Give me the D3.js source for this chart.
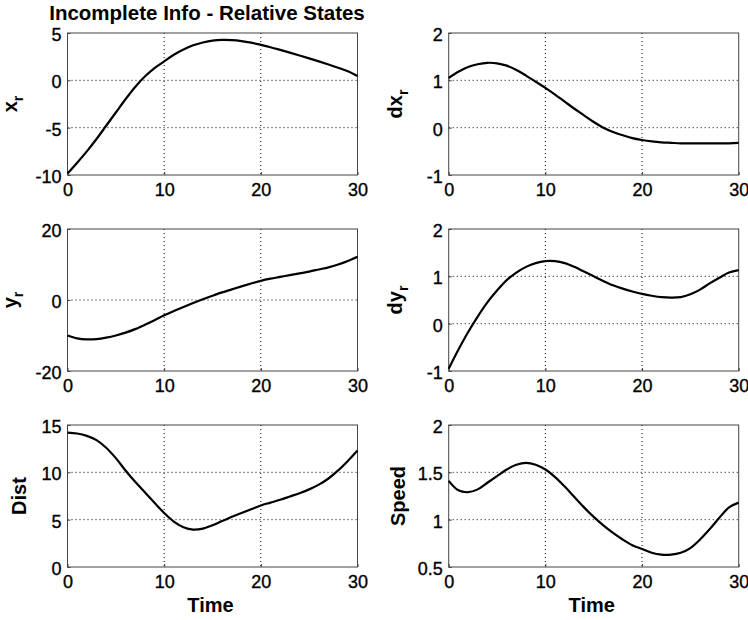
<!DOCTYPE html>
<html>
<head>
<meta charset="utf-8">
<script src="https://cdn.jsdelivr.net/npm/d3@7"></script>
<style>
  body { margin: 0; background: #fff; }
  svg { display: block; font-family: Arial, "Liberation Sans", sans-serif; }
</style>
</head>
<body>
<div id="chart"></div>
<script>
// temps (x commun aux 6 graphes)
const temps = [0, 1, 2, 3, 4, 5, 6, 7, 8, 9, 10, 11, 12, 13, 14, 15, 16, 17, 18, 19, 20,
  21, 22, 23, 24, 25, 26, 27, 28, 29, 30];

const xr = [-9.85, -8.7, -7.5, -6.2, -4.8, -3.4, -2.0, -0.7, 0.4, 1.3, 2.0, 2.7, 3.25, 3.7, 4.0, 4.2,
  4.27, 4.25, 4.15, 3.98, 3.75, 3.5, 3.22, 2.93, 2.63, 2.32, 2.0, 1.67, 1.33, 0.95, 0.45];
const dxr = [1.05, 1.18, 1.28, 1.34, 1.37, 1.36, 1.31, 1.22, 1.1, 0.97, 0.84, 0.7, 0.55, 0.4, 0.26,
  0.12, 0.0, -0.09, -0.16, -0.22, -0.26, -0.29, -0.31, -0.32, -0.33, -0.33, -0.33, -0.33, -0.33, -0.33, -0.32];
const yr = [-10.0, -10.8, -11.1, -11.0, -10.6, -10.0, -9.2, -8.2, -7.0, -5.7, -4.3, -3.1, -1.95, -0.85,
  0.2, 1.2, 2.15, 3.0, 3.85, 4.65, 5.4, 6.0, 6.5, 7.0, 7.5, 8.0, 8.6, 9.2, 10.0, 11.0, 12.2];
const dyr = [-0.95, -0.55, -0.18, 0.15, 0.45, 0.7, 0.92, 1.08, 1.2, 1.28, 1.32, 1.32, 1.28, 1.2, 1.1,
  1.0, 0.9, 0.81, 0.74, 0.68, 0.63, 0.59, 0.56, 0.55, 0.56, 0.62, 0.72, 0.85, 0.97, 1.08, 1.13];
const dist = [14.2, 14.1, 13.85, 13.4, 12.6, 11.5, 10.2, 9.0, 7.9, 6.8, 5.7, 4.8, 4.2, 3.95, 4.05, 4.4,
  4.85, 5.3, 5.7, 6.1, 6.5, 6.8, 7.1, 7.45, 7.8, 8.2, 8.7, 9.35, 10.2, 11.2, 12.3];
const vitesse = [1.41, 1.31, 1.29, 1.32, 1.39, 1.46, 1.53, 1.58, 1.6, 1.58, 1.53, 1.45, 1.35, 1.24,
  1.13, 1.03, 0.94, 0.86, 0.79, 0.73, 0.69, 0.65, 0.63, 0.63, 0.65, 0.7, 0.79, 0.9, 1.02, 1.13, 1.18];

const ticksTemps = [0, 10, 20, 30];
const ticksXr = [-10, -5, 0, 5];
const ticksDxr = [-1, 0, 1, 2];
const ticksYr = [-20, 0, 20];
const ticksDyr = [-1, 0, 1, 2];
const ticksDist = [0, 5, 10, 15];
const ticksVitesse = [0.5, 1, 1.5, 2];

const titre = "Incomplete Info - Relative States";

const svg = d3.select("#chart").append("svg")
  .attr("width", 748)
  .attr("height", 620);

svg.append("rect").attr("width", 748).attr("height", 620).attr("fill", "#fff");

const colonnes = [67.5, 448.7];
const lignes = [33, 229, 425];
const largeur = 290, hauteur = 142;

const graphes = [
  { col: 0, row: 0, data: xr, ticks: ticksXr, label: "x", sub: "r", lx: 17 },
  { col: 1, row: 0, data: dxr, ticks: ticksDxr, label: "dx", sub: "r", lx: 402 },
  { col: 0, row: 1, data: yr, ticks: ticksYr, label: "y", sub: "r", lx: 17 },
  { col: 1, row: 1, data: dyr, ticks: ticksDyr, label: "dy", sub: "r", lx: 402 },
  { col: 0, row: 2, data: dist, ticks: ticksDist, label: "Dist", sub: null, lx: 26 },
  { col: 1, row: 2, data: vitesse, ticks: ticksVitesse, label: "Speed", sub: null, lx: 405 }
];

graphes.forEach(gr => {
  const x0 = colonnes[gr.col], y0 = lignes[gr.row];
  const g = svg.append("g").attr("transform", "translate(" + x0 + "," + y0 + ")");

  const echelleX = d3.scaleLinear().domain([0, 30]).range([0, largeur]);
  const echelleY = d3.scaleLinear()
    .domain([gr.ticks[0], gr.ticks[gr.ticks.length - 1]])
    .range([hauteur, 0]);

  // grille pointillee
  g.selectAll(".gx").data(ticksTemps.slice(1, -1)).join("line")
    .attr("x1", d => echelleX(d)).attr("x2", d => echelleX(d))
    .attr("y1", 0).attr("y2", hauteur)
    .attr("stroke", "#000").attr("stroke-width", 1)
    .attr("stroke-dasharray", "1,3");
  g.selectAll(".gy").data(gr.ticks.slice(1, -1)).join("line")
    .attr("y1", d => echelleY(d)).attr("y2", d => echelleY(d))
    .attr("x1", 0).attr("x2", largeur)
    .attr("stroke", "#000").attr("stroke-width", 1)
    .attr("stroke-dasharray", "1,3");

  // axes (ticks vers l'interieur)
  const axeX = d3.axisBottom(echelleX).tickValues(ticksTemps).tickSize(-3).tickPadding(8).tickFormat(d3.format("d"));
  const axeY = d3.axisLeft(echelleY).tickValues(gr.ticks).tickSize(-3).tickPadding(6).tickFormat(d => String(d));

  const gx = g.append("g").attr("transform", "translate(0," + hauteur + ")").call(axeX);
  const gy = g.append("g").call(axeY);
  [gx, gy].forEach(a => {
    a.select(".domain").remove();
    a.selectAll("line").attr("stroke", "#444");
    a.selectAll("text").attr("fill", "#000").style("font-size", "18px")
      .style("font-family", "Arial, 'Liberation Sans', sans-serif")
      .attr("stroke", "#000").attr("stroke-width", 0.35);
  });
  gx.selectAll("text").attr("dy", "0.71em");
  gy.selectAll("text").attr("dy", "0.42em");

  // cadre
  g.append("rect")
    .attr("width", largeur).attr("height", hauteur)
    .attr("fill", "none").attr("stroke", "#444").attr("stroke-width", 1);

  const ligne = d3.line()
    .x((d, i) => echelleX(temps[i]))
    .y(d => echelleY(d))
    .curve(d3.curveCatmullRom);

  g.append("path")
    .datum(gr.data)
    .attr("d", ligne)
    .attr("fill", "none")
    .attr("stroke", "#000")
    .attr("stroke-width", 2.2);

  // label y
  const lab = svg.append("text")
    .attr("transform", "translate(" + gr.lx + "," + (y0 + hauteur / 2) + ") rotate(-90)")
    .attr("text-anchor", "middle")
    .style("font-size", "20px")
    .style("font-weight", "bold");
  lab.append("tspan").text(gr.label);
  if (gr.sub) {
    lab.append("tspan").attr("dy", "0.4em").style("font-size", "14px").text(gr.sub);
  }

  if (gr.row == 2) {
    svg.append("text")
      .attr("x", x0 + largeur / 2 - 2)
      .attr("y", 612)
      .attr("text-anchor", "middle")
      .style("font-size", "20px")
      .style("font-weight", "bold")
      .text("Time");
  }
});

svg.append("text")
  .attr("x", 207)
  .attr("y", 19.5)
  .attr("text-anchor", "middle")
  .style("font-size", "20.5px")
  .style("font-weight", "bold")
  .text(titre);
</script>
</body>
</html>
